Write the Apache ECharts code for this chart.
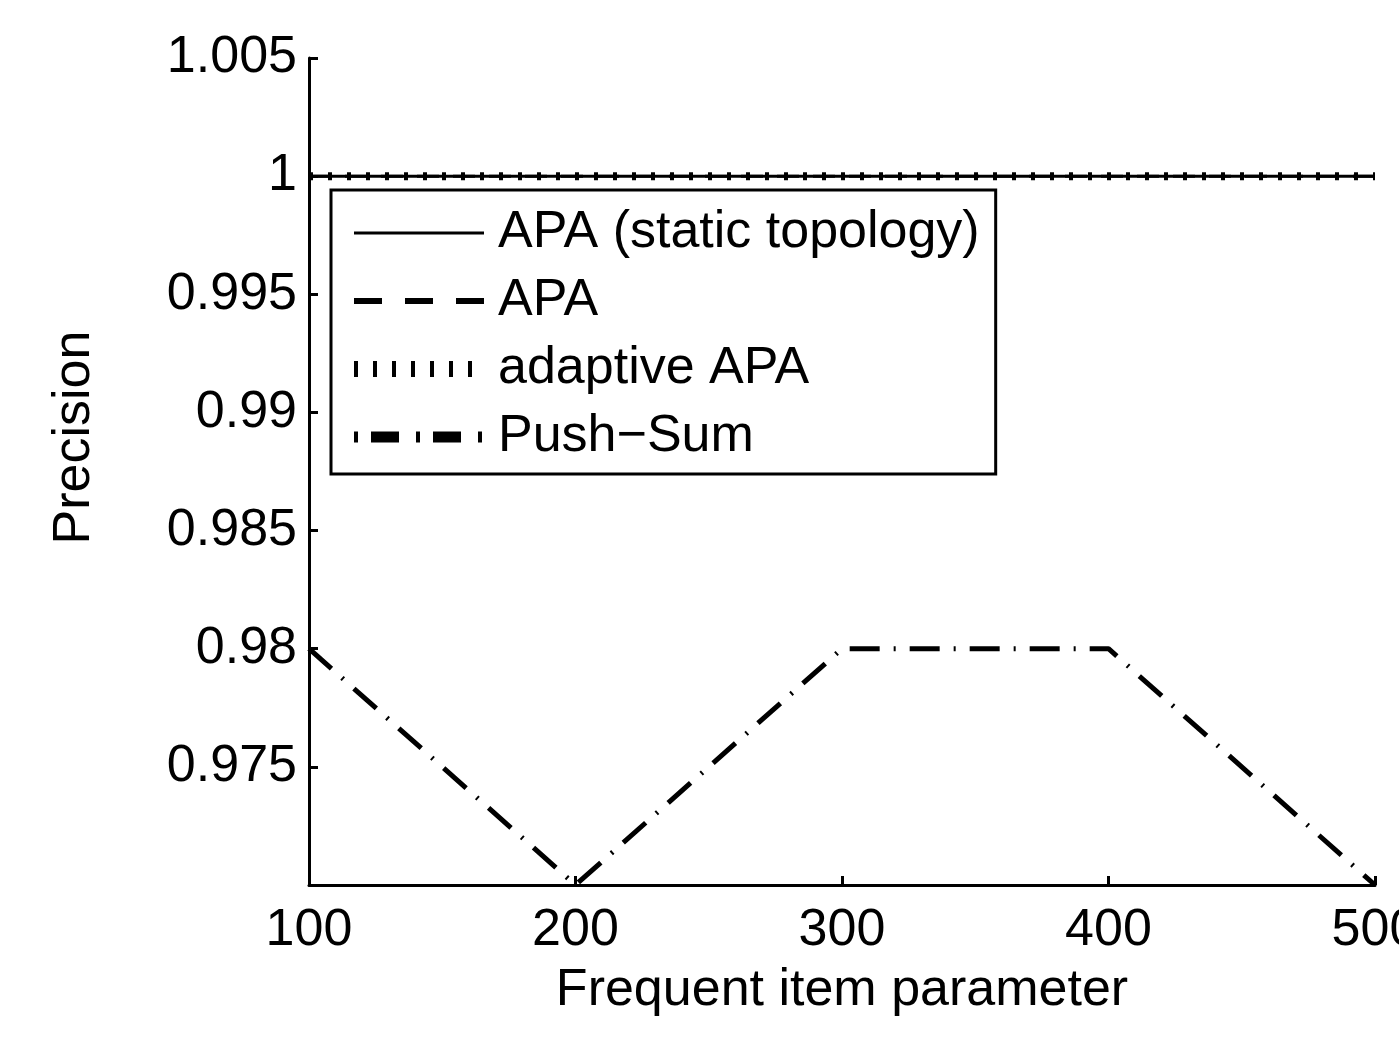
<!DOCTYPE html>
<html>
<head>
<meta charset="utf-8">
<style>
html,body{margin:0;padding:0;background:#fff;}
#chart{width:1399px;height:1043px;}
</style>
<script src="https://cdn.jsdelivr.net/npm/echarts@6/dist/echarts.min.js"></script>
</head>
<body>
<div id="chart"></div>
<script>
var xValues = [100, 200, 300, 400, 500];
var apaStatic = [1, 1, 1, 1, 1];
var apa = [1, 1, 1, 1, 1];
var adaptiveApa = [1, 1, 1, 1, 1];
var pushSum = [0.98, 0.97, 0.98, 0.98, 0.97];
var seriesNames = ['APA (static topology)', 'APA', 'adaptive APA', 'Push\u2212Sum'];

function pairs(ys) { return xValues.map(function (x, i) { return [x, ys[i]]; }); }

var FONT = 'Liberation Sans, Arial, sans-serif';
var FS = 52;
var chart = echarts.init(document.getElementById('chart'));
chart.setOption({
  animation: false,
  backgroundColor: '#fff',
  color: ['#000', '#000', '#000', '#000'],
  grid: { left: 309, right: 24, top: 58, bottom: 158, containLabel: false, outerBoundsMode: 'none' },
  xAxis: {
    type: 'value', min: 100, max: 500, interval: 100,
    name: 'Frequent item parameter', nameLocation: 'middle', nameGap: 80,
    nameTextStyle: { fontFamily: FONT, fontSize: FS, color: '#000' },
    axisLine: { lineStyle: { color: '#000', width: 3 } },
    axisTick: { inside: true, length: 9, lineStyle: { color: '#000', width: 3 } },
    axisLabel: { fontFamily: FONT, fontSize: FS, color: '#000', margin: 20, hideOverlap: false },
    splitLine: { show: false }
  },
  yAxis: {
    type: 'value', min: 0.97, max: 1.005, interval: 0.005,
    name: 'Precision', nameLocation: 'middle', nameGap: 208,
    nameTextStyle: { fontFamily: FONT, fontSize: FS, color: '#000', padding: [0, 0, 0, 68] },
    axisLine: { lineStyle: { color: '#000', width: 3 } },
    axisTick: { inside: true, length: 9, lineStyle: { color: '#000', width: 3 } },
    axisLabel: {
      fontFamily: FONT, fontSize: FS, color: '#000', margin: 12, showMinLabel: false,
      formatter: function (v) { var r = parseFloat(v.toFixed(3)); return r <= 0.9701 ? '' : String(r); }
    },
    splitLine: { show: false }
  },
  legend: {
    orient: 'vertical', left: 331, top: 190,
    padding: [17, 16, 11, 15],
    borderColor: '#000', borderWidth: 3,
    itemWidth: 130, itemHeight: 20, itemGap: 16,
    itemStyle: { opacity: 0 },
    textStyle: { fontFamily: FONT, fontSize: FS, color: '#000', padding: [0, 0, 0, 9] },
    data: [
      { name: seriesNames[0], lineStyle: { width: 3, type: 'solid', color: '#000' } },
      { name: seriesNames[1], lineStyle: { width: 6, type: [28, 23], color: '#000' } },
      { name: seriesNames[2], lineStyle: { width: 16, type: [4, 15], color: '#000' } },
      { name: seriesNames[3], lineStyle: { width: 11, type: [4, 13, 28, 17], color: '#000' } }
    ]
  },
  series: [
    { name: seriesNames[0], type: 'line', data: pairs(apaStatic), symbol: 'none',
      itemStyle: { color: '#000' },
      lineStyle: { color: '#000', width: 3, type: 'solid' } },
    { name: seriesNames[1], type: 'line', data: pairs(apa), symbol: 'none',
      itemStyle: { color: '#000' },
      lineStyle: { color: '#000', width: 3, type: [22, 14] } },
    { name: seriesNames[2], type: 'line', data: pairs(adaptiveApa), symbol: 'none',
      itemStyle: { color: '#000' },
      lineStyle: { color: '#000', width: 8, type: [4, 15] } },
    { name: seriesNames[3], type: 'line', data: pairs(pushSum), symbol: 'none',
      itemStyle: { color: '#000' },
      lineStyle: { color: '#000', width: 5, type: [30, 14, 2, 14] } }
  ]
});
</script>
</body>
</html>
